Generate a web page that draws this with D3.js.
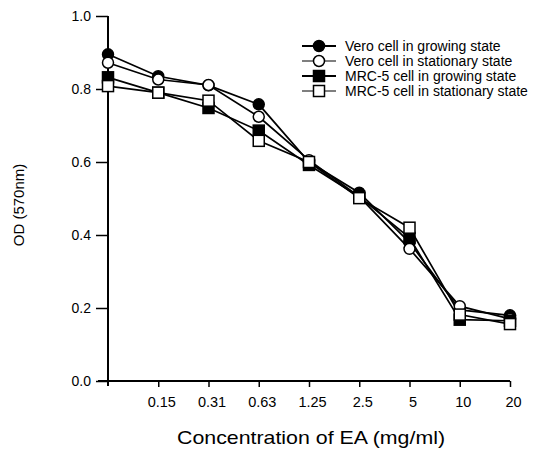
<!DOCTYPE html>
<html lang="en">
  <head>
    <meta charset="utf-8">
    <title>OD vs EA concentration</title>
    <script src="https://d3js.org/d3.v7.min.js"></script>
    <style>
      body { margin: 0; background: #fff; }
      text { font-family: Arial, "Liberation Sans", sans-serif; fill: #000; }
    </style>
  </head>
  <body>
    <script>
      // concentrations (first one is the untreated control, no label)
      var concentrations = ["0", "0.15", "0.31", "0.63", "1.25", "2.5", "5", "10", "20"];
      var yTicks = [0.0, 0.2, 0.4, 0.6, 0.8, 1.0];

      var veroGrowing    = [0.895, 0.835, 0.810, 0.758, 0.600, 0.516, 0.380, 0.195, 0.180];
      var veroStationary = [0.872, 0.826, 0.811, 0.724, 0.605, 0.505, 0.362, 0.205, 0.170];
      var mrcGrowing     = [0.832, 0.790, 0.748, 0.686, 0.592, 0.505, 0.392, 0.168, 0.165];
      var mrcStationary  = [0.808, 0.790, 0.768, 0.658, 0.600, 0.501, 0.420, 0.182, 0.156];

      var seriesNames = ["Vero cell in growing state", "Vero cell in stationary state",
                         "MRC-5 cell in growing state", "MRC-5 cell in stationary state"];

      var series = [
        {name: seriesNames[0], values: veroGrowing, shape: "circle", fill: "#000"},
        {name: seriesNames[1], values: veroStationary, shape: "circle", fill: "#fff"},
        {name: seriesNames[2], values: mrcGrowing, shape: "square", fill: "#000"},
        {name: seriesNames[3], values: mrcStationary, shape: "square", fill: "#fff"}
      ];

      var width = 539, height = 456;

      var svg = d3.select("body").append("svg")
        .attr("width", width)
        .attr("height", height);

      var x = d3.scalePoint()
        .domain(concentrations)
        .range([108, 510]);

      var y = d3.scaleLinear()
        .domain([0, 1])
        .range([381, 16]);

      // y axis
      var yAxis = d3.axisLeft(y)
        .tickValues(yTicks)
        .tickFormat(d3.format(".1f"))
        .tickSize(12)
        .tickPadding(5);

      svg.append("g")
        .attr("transform", "translate(" + x.range()[0] + ",0)")
        .call(yAxis)
        .call(function(g) {
          g.select(".domain").attr("d", "M0," + y(1) + "V" + (y(0) + 5)).attr("stroke-width", 2);
          g.selectAll(".tick line").attr("stroke-width", 1.5);
          g.selectAll("text").style("font-size", "14px");
        });

      // x axis
      var xAxis = d3.axisBottom(x)
        .tickValues(concentrations.slice(1))
        .tickSize(6)
        .tickPadding(10);

      svg.append("g")
        .attr("transform", "translate(0," + y(0) + ")")
        .call(xAxis)
        .call(function(g) {
          g.select(".domain").attr("d", "M" + (x.range()[0] - 10) + ",0H" + x.range()[1]).attr("stroke-width", 2);
          g.selectAll(".tick line").attr("stroke-width", 1.5);
          g.selectAll("text").style("font-size", "14.5px").attr("dx", 3);
        });

      // axis titles
      svg.append("text")
        .attr("transform", "translate(24,205) rotate(-90)")
        .attr("text-anchor", "middle")
        .style("font-size", "15px")
        .text("OD (570nm)");

      svg.append("text")
        .attr("x", 311)
        .attr("y", 444)
        .attr("text-anchor", "middle")
        .attr("textLength", 268)
        .attr("lengthAdjust", "spacingAndGlyphs")
        .style("font-size", "18.5px")
        .text("Concentration of EA (mg/ml)");

      var line = d3.line()
        .x(function(d, i) { return x(concentrations[i]); })
        .y(function(d) { return y(d); });

      function drawMarker(g, s, cx, cy) {
        if (s.shape == "circle") {
          g.append("circle")
            .attr("cx", cx).attr("cy", cy).attr("r", 5.5)
            .attr("fill", s.fill).attr("stroke", "#000").attr("stroke-width", 1.5);
        } else {
          g.append("rect")
            .attr("x", cx - 5.5).attr("y", cy - 5.5)
            .attr("width", 11).attr("height", 11)
            .attr("fill", s.fill).attr("stroke", "#000").attr("stroke-width", 1.5);
        }
      }

      var plot = svg.append("g");

      series.forEach(function(s) {
        plot.append("path")
          .datum(s.values)
          .attr("d", line)
          .attr("fill", "none")
          .attr("stroke", "#000")
          .attr("stroke-width", 1.7);
      });

      series.forEach(function(s) {
        var g = plot.append("g");
        s.values.forEach(function(v, i) {
          drawMarker(g, s, x(concentrations[i]), y(v));
        });
      });

      // legend
      var legend = svg.append("g");
      series.forEach(function(s, i) {
        var ly = 46 + i * 15;
        legend.append("line")
          .attr("x1", 302).attr("x2", 336)
          .attr("y1", ly).attr("y2", ly)
          .attr("stroke", "#000")
          .attr("stroke-width", s.fill == "#000" ? 2 : 1.2);
        drawMarker(legend, s, 319, ly);
        legend.append("text")
          .attr("x", 345)
          .attr("y", ly)
          .attr("dy", "0.35em")
          .style("font-size", "14px")
          .text(s.name);
      });
    </script>
  </body>
</html>
